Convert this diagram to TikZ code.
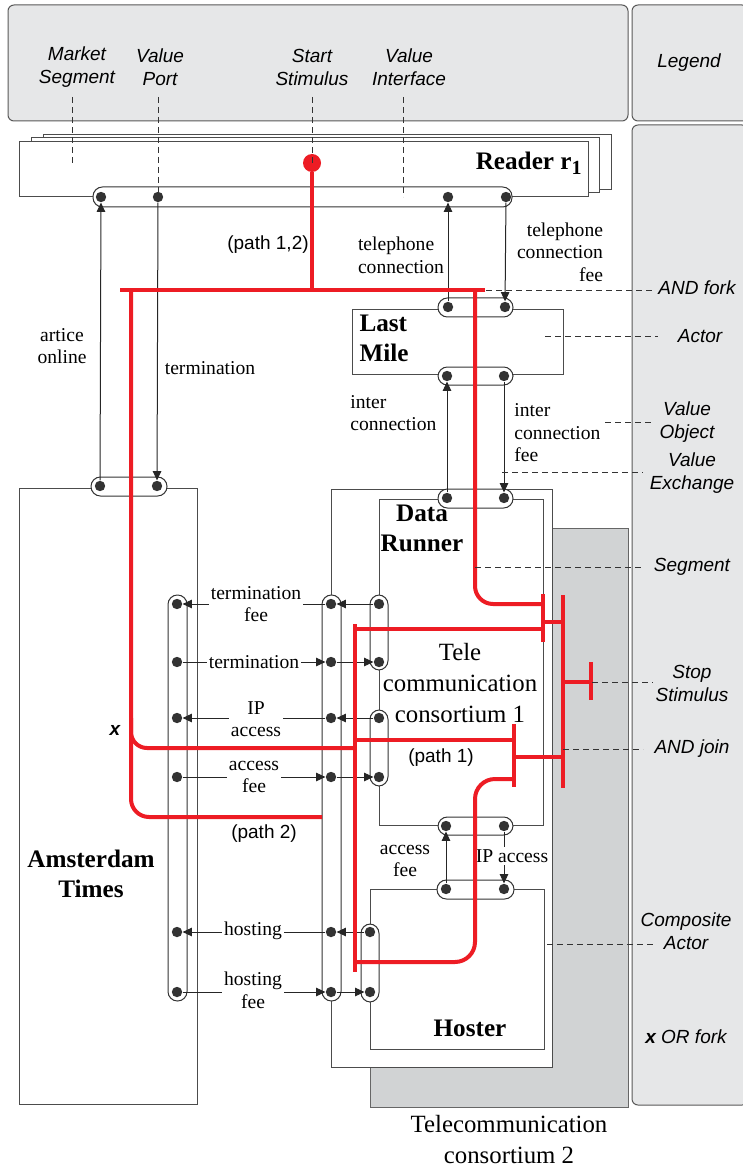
\documentclass[tikz,border=0pt]{standalone}
\usepackage{fontspec}
\setmainfont{Liberation Serif}
\setsansfont{Liberation Sans}
\usetikzlibrary{arrows.meta, fit}
\definecolor{scenred}{HTML}{ED1C24}
\definecolor{leggray}{HTML}{E6E7E8}
\definecolor{cogray}{HTML}{D1D3D4}

\begin{document}
\begin{tikzpicture}[
    x=0.5pt, y=-0.5pt,
    >={Triangle[length=4.6pt,width=4.2pt]},
    panel/.style={draw=black!65, fill=leggray, line width=0.5pt, rounded corners=3pt, inner sep=0pt},
    actor/.style={draw=black!70, fill=white, line width=0.5pt, inner sep=0pt},
    vif/.style={draw=black!80, fill=white, line width=0.5pt, inner sep=0pt, rounded corners=4.7pt},
    port/.style={circle, fill=black!80, inner sep=0pt, minimum size=5.2pt},
    vex/.style={->, line width=0.5pt, black!85},
    lbl/.style={font=\fontsize{9.8}{11.3}\selectfont, fill=white, inner sep=1pt, align=center},
    note/.style={font=\fontsize{9.8}{11.3}\selectfont, inner sep=0pt},
    title/.style={font=\fontsize{12.6}{15}\selectfont\bfseries, inner sep=0pt, align=center},
    bigtxt/.style={font=\fontsize{12.4}{15.5}\selectfont, inner sep=0pt, align=center},
    leg/.style={font=\sffamily\itshape\fontsize{9.5}{11.5}\selectfont, inner sep=0pt, align=center},
    pathlbl/.style={font=\sffamily\fontsize{9.5}{11.5}\selectfont, inner sep=0pt},
    scen/.style={draw=scenred, line width=2pt},
    bar/.style={draw=scenred, line width=2.4pt},
    guide/.style={dash pattern=on 3pt off 2pt, line width=0.4pt, black!80},
]
\useasboundingbox (0,0) rectangle (743,1171);

\node[panel, fit={(8,5) (628,121)}] (legtop) {};
\node[panel, fit={(632,5) (748,121)}] (legside) {};
\node[panel, fit={(632,125) (748,1105)}] (legcol) {};
\node[leg] (leglegend) at (689,63) {Legend};
\node[leg] (legms) at (77,67) {Market\\Segment};
\node[leg] (legvp) at (160,67) {Value\\Port};
\node[leg] (legss) at (312,67) {Start\\Stimulus};
\node[leg] (legvi) at (409,67) {Value\\Interface};

\node[actor, fit={(43,135) (611,190)}] (reader2) {};
\node[actor, fit={(31,138) (599,193)}] (reader1) {};
\node[actor, fit={(19,142) (588,197)}] (reader) {};
\node[title, anchor=east] (readername) at (582,163) {Reader r\raisebox{-0.45ex}{\fontsize{10}{10}\selectfont 1}};
\node[vif, fit={(93,187) (512,207)}] (rdif) {};
\node[port] (rd1) at (101,197) {};
\node[port] (rd2) at (158,197) {};
\node[port] (rd3) at (448,197) {};
\node[port] (rd4) at (506,197) {};

\node[actor, draw=black!60, fill=cogray, fit={(370,528) (628,1107)}] (tc2) {};
\node[bigtxt] (tc2name) at (509,1140) {Telecommunication\\consortium 2};
\node[actor, fit={(331,489) (552,1067)}] (tc1) {};
\node[actor, fit={(379,499) (543,825)}] (dr) {};
\node[actor, fit={(370,889) (544,1049)}] (ho) {};
\node[actor, fit={(352,310) (563,374)}] (lm) {};
\node[actor, fit={(19,488) (197,1104)}] (at) {};

\node[title, align=left] (lmname) at (384,338) {Last\\Mile};
\node[title] (drname) at (422,528) {Data\\Runner};
\node[title] (honame) at (470,1028) {Hoster};
\node[title] (atname) at (91,874) {Amsterdam\\Times};
\node[bigtxt] (tc1name) at (460,683) {Tele\\communication\\consortium 1};

\node[vif, fit={(91,477) (167,496)}] (atif) {};
\node[port] (am1) at (100,486) {};
\node[port] (am2) at (157,486) {};
\node[vif, fit={(438,298) (513,317)}] (lmtif) {};
\node[port] (lmt1) at (448,307) {};
\node[port] (lmt2) at (505,307) {};
\node[vif, fit={(438,367) (513,385)}] (lmbif) {};
\node[port] (lmb1) at (447,376) {};
\node[port] (lmb2) at (504,376) {};
\node[vif, fit={(438,489) (513,508)}] (drtif) {};
\node[port] (drt1) at (447,498) {};
\node[port] (drt2) at (504,498) {};
\node[vif, fit={(438,817) (513,835)}] (drbif) {};
\node[port] (drb1) at (446,826) {};
\node[port] (drb2) at (504,826) {};
\node[vif, fit={(437,880) (514,899)}] (hotif) {};
\node[port] (hot1) at (446,889) {};
\node[port] (hot2) at (504,889) {};

\node[vif, fit={(168,595) (187,1001)}] (atrif) {};
\node[vif, fit={(322,595) (341,1001)}] (tclif) {};
\node[vif, fit={(370,595) (388,670)}] (drlif1) {};
\node[vif, fit={(370,710) (388,786)}] (drlif2) {};
\node[vif, fit={(361,924) (379,1002)}] (holif) {};
\foreach \i/\y in {1/604,2/662,3/718,4/777,5/932,6/992} {
  \node[port] (atr\i) at (177,\y) {};
  \node[port] (tcl\i) at (331,\y) {};
}
\node[port] (drl1) at (379,604) {};
\node[port] (drl2) at (379,662) {};
\node[port] (drl3) at (379,718) {};
\node[port] (drl4) at (379,777) {};
\node[port] (hol1) at (370,932) {};
\node[port] (hol2) at (370,992) {};

\draw[vex] (am1) -- (rd1);
\draw[vex] (rd2) -- (am2);
\draw[vex] (lmt1) -- (rd3);
\draw[vex] (rd4) -- (lmt2);
\draw[vex] (drt1) -- (lmb1);
\draw[vex] (lmb2) -- (drt2);
\draw[vex] (hot1) -- (drb1);
\draw[vex] (drb2) -- (hot2);
\draw[vex] (tcl1) -- (atr1);
\draw[vex] (drl1) -- (tcl1);
\draw[vex] (atr2) -- (tcl2);
\draw[vex] (tcl2) -- (drl2);
\draw[vex] (drl3) -- (tcl3);
\draw[vex] (tcl3) -- (atr3);
\draw[vex] (atr4) -- (tcl4);
\draw[vex] (tcl4) -- (drl4);
\draw[vex] (hol1) -- (tcl5);
\draw[vex] (tcl5) -- (atr5);
\draw[vex] (atr6) -- (tcl6);
\draw[vex] (tcl6) -- (hol2);

\node[note, align=center] (vxarticle) at (62,346) {artice\\online};
\node[note] (vxterm) at (210,368) {termination};
\node[note, align=left] (vxtel) at (401,255) {telephone\\connection};
\node[note, align=right] (vxtelfee) at (560,252) {telephone\\connection\\fee};
\node[note, align=left, anchor=west] (vxinter) at (350,413) {inter\\connection};
\node[note, align=left, anchor=west] (vxinterfee) at (514,433) {inter\\connection\\fee};
\node[note, align=center] (vxaccfee) at (405,861) {access\\fee};
\node[lbl] (vxipacc) at (512,856) {IP access};
\node[lbl] (vxtermfee) at (256,604) {termination\\fee};
\node[lbl] (vxterm2) at (254,662) {termination};
\node[lbl] (vxip) at (256,719) {IP\\access};
\node[lbl] (vxacc) at (254,777) {access\\fee};
\node[lbl] (vxhost) at (253,931) {hosting};
\node[lbl] (vxhostfee) at (253,990) {hosting\\fee};

\node[pathlbl] (p12) at (268,245) {(path 1,2)};
\node[pathlbl] (p2) at (264,834) {(path 2)};
\node[pathlbl] (p1) at (441,758) {(path 1)};
\node[font=\sffamily\bfseries\itshape\fontsize{9.5}{11.5}\selectfont, inner sep=0pt] (orx) at (115,730) {x};

\node[circle, fill=scenred, inner sep=0pt, minimum size=9pt] (start) at (312,163) {};
\coordinate (forkL) at (120,290);
\coordinate (forkR) at (485,290);
\draw[bar] (forkL) -- (forkR);
\draw[scen] (start) -- (start |- forkL);
\draw[scen, rounded corners=9pt] (131,290) -- (131,817) -- (322,817);
\draw[scen, rounded corners=8pt] (131,718) -- (131,748) -- (355,748);
\draw[scen, rounded corners=9pt] (475,290) -- (475,604) -- (543,604);
\draw[scen] (355,624) -- (355,972);
\draw[scen] (355,629) -- (543,629);
\draw[scen] (355,740) -- (514,740);
\draw[scen, rounded corners=10pt] (355,962) -- (475,962) -- (475,779) -- (514,779);
\draw[bar] (543,594) -- (543,642);
\draw[bar] (514,724) -- (514,787);
\draw[bar] (563,595) -- (563,788);
\draw[bar] (591,662) -- (591,700);
\draw[scen] (543,622) -- (563,622);
\draw[scen] (514,757) -- (563,757);
\draw[scen] (563,682) -- (591,682);

\draw[guide] (72,97) -- (72,163);
\draw[guide] (158,97) -- (158,193);
\draw[guide] (312,97) -- (start.center);
\draw[guide] (403,97) -- (403,197);
\draw[guide] (486,290) -- (654,290);
\draw[guide] (545,336) -- (658,336);
\draw[guide] (605,422) -- (652,422);
\draw[guide] (502,472) -- (643,472);
\draw[guide] (475,567) -- (642,567);
\draw[guide] (592,682) -- (653,682);
\draw[guide] (563,749) -- (643,749);
\draw[guide] (547,944) -- (654,944);

\node[leg] (legfork) at (697,288) {AND fork};
\node[leg] (legactor) at (700,336) {Actor};
\node[leg] (legvo) at (687,422) {Value\\Object};
\node[leg] (legve) at (692,473) {Value\\Exchange};
\node[leg] (legseg) at (692,567) {Segment};
\node[leg] (legstop) at (692,683) {Stop\\Stimulus};
\node[leg] (legjoin) at (692,749) {AND join};
\node[leg] (legca) at (686,931) {Composite\\Actor};
\node[leg] (legor) at (686,1037) {\textbf{x} OR fork};
\end{tikzpicture}
\end{document}
